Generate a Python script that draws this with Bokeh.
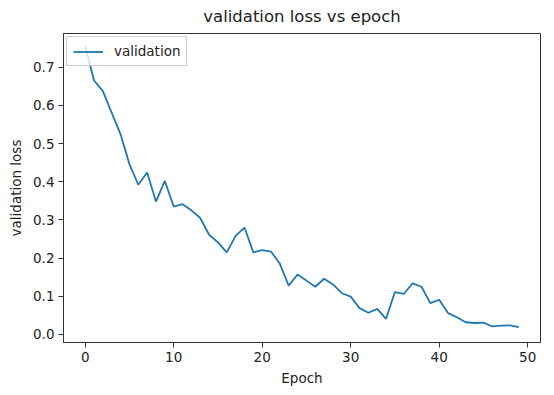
from bokeh.plotting import figure
from bokeh.models import FixedTicker, PrintfTickFormatter, Range1d, Legend, LegendItem
from bokeh.embed import file_html
from bokeh.resources import INLINE

epochs = list(range(50))
val_loss = [0.755, 0.665, 0.637, 0.580, 0.524, 0.446, 0.392, 0.424, 0.348, 0.402,
            0.335, 0.341, 0.325, 0.305, 0.261, 0.241, 0.215, 0.258, 0.280, 0.215,
            0.221, 0.217, 0.185, 0.128, 0.157, 0.141, 0.125, 0.146, 0.131, 0.108,
            0.099, 0.069, 0.057, 0.067, 0.041, 0.111, 0.106, 0.134, 0.125, 0.082,
            0.091, 0.056, 0.045, 0.032, 0.030, 0.031, 0.021, 0.023, 0.024, 0.019]
x_ticks = [0, 10, 20, 30, 40, 50]
y_ticks = [0.0, 0.1, 0.2, 0.3, 0.4, 0.5, 0.6, 0.7]

FONT = "DejaVu Sans"

p = figure(width=552, height=392, output_backend="svg", toolbar_location=None,
           title="validation loss vs epoch",
           x_range=Range1d(-2.45, 51.45), y_range=Range1d(-0.021, 0.788),
           min_border_left=63, min_border_right=12, min_border_top=32, min_border_bottom=50)

p.title.align = "center"
p.title.vertical_align = "top"
p.title.text_font = FONT
p.title.text_font_size = "16.5px"
p.title.text_font_style = "normal"
p.title.text_color = "#222222"
p.title.standoff = 12

r = p.line(epochs, val_loss, line_color="#1f77b4", line_width=1.8)

p.grid.visible = False
p.outline_line_color = "#333333"
p.outline_line_width = 1
p.outline_line_alpha = 1.0

for ax in (p.xaxis[0], p.yaxis[0]):
    ax.major_label_text_font = FONT
    ax.major_label_text_font_size = "13.5px"
    ax.major_label_text_color = "#222222"
    ax.axis_label_text_font = FONT
    ax.axis_label_text_font_size = "13.5px"
    ax.axis_label_text_font_style = "normal"
    ax.axis_label_text_color = "#222222"
    ax.minor_tick_line_color = None
    ax.major_tick_in = 0
    ax.major_tick_out = 5
    ax.major_tick_line_color = "#333333"
    ax.axis_line_color = "#333333"

p.xaxis.ticker = FixedTicker(ticks=x_ticks)
p.yaxis.ticker = FixedTicker(ticks=y_ticks)
p.yaxis.formatter = PrintfTickFormatter(format="%.1f")
p.xaxis.axis_label = "Epoch"
p.yaxis.axis_label = "validation loss"
p.xaxis.major_label_standoff = 4
p.yaxis.major_label_standoff = 4
p.xaxis.axis_label_standoff = 5
p.yaxis.axis_label_standoff = 6

legend = Legend(items=[LegendItem(label="validation", renderers=[r])],
                location="top_left")
legend.label_text_font = FONT
legend.label_text_font_size = "13.5px"
legend.label_text_color = "#222222"
legend.border_line_color = "#cccccc"
legend.border_line_alpha = 1.0
legend.background_fill_alpha = 0.8
legend.margin = 3
legend.padding = 6
legend.glyph_width = 30
legend.label_standoff = 11
legend.label_height = 15
legend.glyph_height = 15
p.add_layout(legend)

open("out.html", "w").write(file_html(p, INLINE))
